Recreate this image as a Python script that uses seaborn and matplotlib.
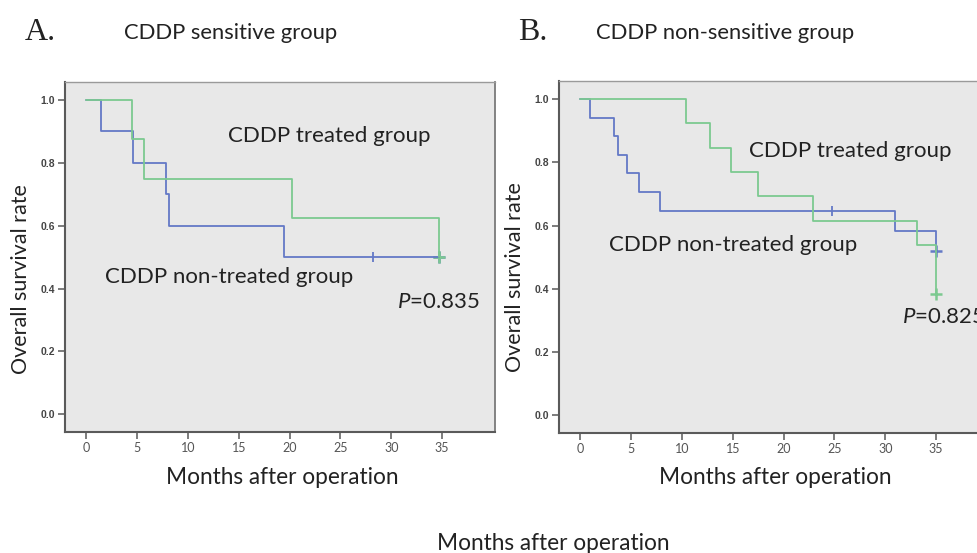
import numpy as np
import pandas as pd
import matplotlib
matplotlib.use("Agg")
import matplotlib.pyplot as plt
import seaborn as sns

# ---- data ----
# Panel A: CDDP sensitive group
a_treated_t = [0, 4.46, 5.64, 20.2, 34.7]
a_treated_s = [1.0, 0.875, 0.75, 0.625, 0.5]
a_non_t = [0, 1.44, 4.62, 7.83, 8.1, 19.4, 34.7]
a_non_s = [1.0, 0.9, 0.8, 0.7, 0.6, 0.5, 0.5]
a_cens_treated_t = [34.7]
a_cens_treated_s = [0.5]
a_cens_non_t = [28.2]
a_cens_non_s = [0.5]
a_cens_non_end_t = [34.7]
a_cens_non_end_s = [0.5]

# Panel B: CDDP non-sensitive group
b_treated_t = [0, 10.35, 12.75, 14.86, 17.52, 22.85, 33.1, 34.95]
b_treated_s = [1.0, 0.923, 0.846, 0.769, 0.692, 0.615, 0.538, 0.385]
b_non_t = [0, 0.92, 3.35, 3.68, 4.6, 5.75, 7.82, 30.97, 34.95]
b_non_s = [1.0, 0.941, 0.882, 0.824, 0.765, 0.706, 0.647, 0.582, 0.518]
b_cens_treated_t = [34.95]
b_cens_treated_s = [0.385]
b_cens_non_t = [24.8]
b_cens_non_s = [0.647]
b_cens_non_end_t = [34.95]
b_cens_non_end_s = [0.518]

x_ticks = [0, 5, 10, 15, 20, 25, 30, 35]
y_ticks = [0.0, 0.2, 0.4, 0.6, 0.8, 1.0]
y_ticklabels = ["0.0", "0.2", "0.4", "0.6", "0.8", "1.0"]

GREEN = "#7cc990"
BLUE = "#6479c6"
BG = "#e8e8e8"
TXT = "#222222"
SANS = ["Lato", "DejaVu Sans"]

sns.set_theme(style="white")
plt.rcParams["font.family"] = SANS
plt.rcParams["mathtext.fontset"] = "custom"
plt.rcParams["mathtext.it"] = "Lato:italic"
plt.rcParams["mathtext.rm"] = "Lato"

fig = plt.figure(figsize=(9.78, 5.53), dpi=100)
W, H = 978, 553


def px_axes(x0, y_top, x1, y_bot):
    return fig.add_axes([x0 / W, 1 - y_bot / H, (x1 - x0) / W, (y_bot - y_top) / H])


def draw_panel(ax, tt, ts, nt, ns, ct, cs, cnt, cns, cnet, cnes):
    curves = pd.concat([
        pd.DataFrame({"t": nt, "s": ns, "g": "non"}),
        pd.DataFrame({"t": tt, "s": ts, "g": "treated"}),
    ])
    sns.lineplot(data=curves, x="t", y="s", hue="g", estimator=None, sort=False,
                 palette={"non": BLUE, "treated": GREEN}, drawstyle="steps-post",
                 linewidth=1.3, legend=False, ax=ax)
    sns.scatterplot(x=cnt, y=cns, marker="|", s=60, color=BLUE, linewidth=1.3, ax=ax, legend=False)
    sns.scatterplot(x=cnet, y=cnes, marker="+", s=70, color=BLUE, linewidth=1.8, ax=ax, legend=False)
    sns.scatterplot(x=ct, y=cs, marker="+", s=70, color=GREEN, linewidth=1.8, ax=ax, legend=False)
    ax.set_facecolor(BG)
    ax.set_xlim(-2.1, 40.2)
    ax.set_ylim(-0.056, 1.057)
    ax.set_xticks(x_ticks)
    ax.set_xticklabels([str(v) for v in x_ticks], fontsize=9, color="#555555", family=SANS)
    ax.set_yticks(y_ticks)
    ax.set_yticklabels(y_ticklabels, fontsize=7.5, color="#444444",
                       family=["Liberation Sans", "DejaVu Sans"], fontweight="bold")
    ax.tick_params(axis="both", which="both", direction="out", length=5, width=1.2,
                   color="#666666", pad=2, left=True, bottom=True)
    ax.set_xlabel("")
    ax.set_ylabel("")
    for side in ["left", "bottom"]:
        ax.spines[side].set_color("#5a5a5a")
        ax.spines[side].set_linewidth(1.5)
    ax.spines["top"].set_color("#9a9a9a")
    ax.spines["top"].set_linewidth(1.0)
    ax.spines["right"].set_color("#7a7a7a")
    ax.spines["right"].set_linewidth(1.3)


axA = px_axes(65, 82, 495, 432)
draw_panel(axA, a_treated_t, a_treated_s, a_non_t, a_non_s,
           a_cens_treated_t, a_cens_treated_s, a_cens_non_t, a_cens_non_s,
           a_cens_non_end_t, a_cens_non_end_s)
axA.text(23.9, 0.885, "CDDP treated group", fontsize=16, color=TXT, ha="center", va="center")
axA.text(14.0, 0.436, "CDDP non-treated group", fontsize=16, color=TXT, ha="center", va="center")
axA.text(30.6, 0.357, r"$\mathit{P}$=0.835", fontsize=16, color=TXT, ha="left", va="center")

axB = px_axes(559, 81, 989, 433)
draw_panel(axB, b_treated_t, b_treated_s, b_non_t, b_non_s,
           b_cens_treated_t, b_cens_treated_s, b_cens_non_t, b_cens_non_s,
           b_cens_non_end_t, b_cens_non_end_s)
axB.text(26.6, 0.836, "CDDP treated group", fontsize=16, color=TXT, ha="center", va="center")
axB.text(15.0, 0.538, "CDDP non-treated group", fontsize=16, color=TXT, ha="center", va="center")
axB.text(31.6, 0.311, r"$\mathit{P}$=0.825", fontsize=16, color=TXT, ha="left", va="center")

# figure-level texts
SERIF = ["Liberation Serif", "DejaVu Serif"]
fig.text(25 / W, 1 - 32 / H, "A.", fontsize=23, family=SERIF, color=TXT, ha="left", va="center")
fig.text(124 / W, 1 - 33 / H, "CDDP sensitive group", fontsize=15.8, color=TXT, ha="left", va="center")
fig.text(518 / W, 1 - 32 / H, "B.", fontsize=23, family=SERIF, color=TXT, ha="left", va="center")
fig.text(596 / W, 1 - 33 / H, "CDDP non-sensitive group", fontsize=15.8, color=TXT, ha="left", va="center")

fig.text(21 / W, 1 - 279 / H, "Overall survival rate", fontsize=15.5, color=TXT, rotation=90,
         ha="center", va="center")
fig.text(515 / W, 1 - 277 / H, "Overall survival rate", fontsize=15.5, color=TXT, rotation=90,
         ha="center", va="center")
fig.text(282 / W, 1 - 477 / H, "Months after operation", fontsize=16.3, color=TXT, ha="center", va="center")
fig.text(775 / W, 1 - 478 / H, "Months after operation", fontsize=16.3, color=TXT, ha="center", va="center")
fig.text(553 / W, 1 - 543 / H, "Months after operation", fontsize=16.3, color=TXT, ha="center", va="center")

fig.savefig("out.png", dpi=100, facecolor="white")
